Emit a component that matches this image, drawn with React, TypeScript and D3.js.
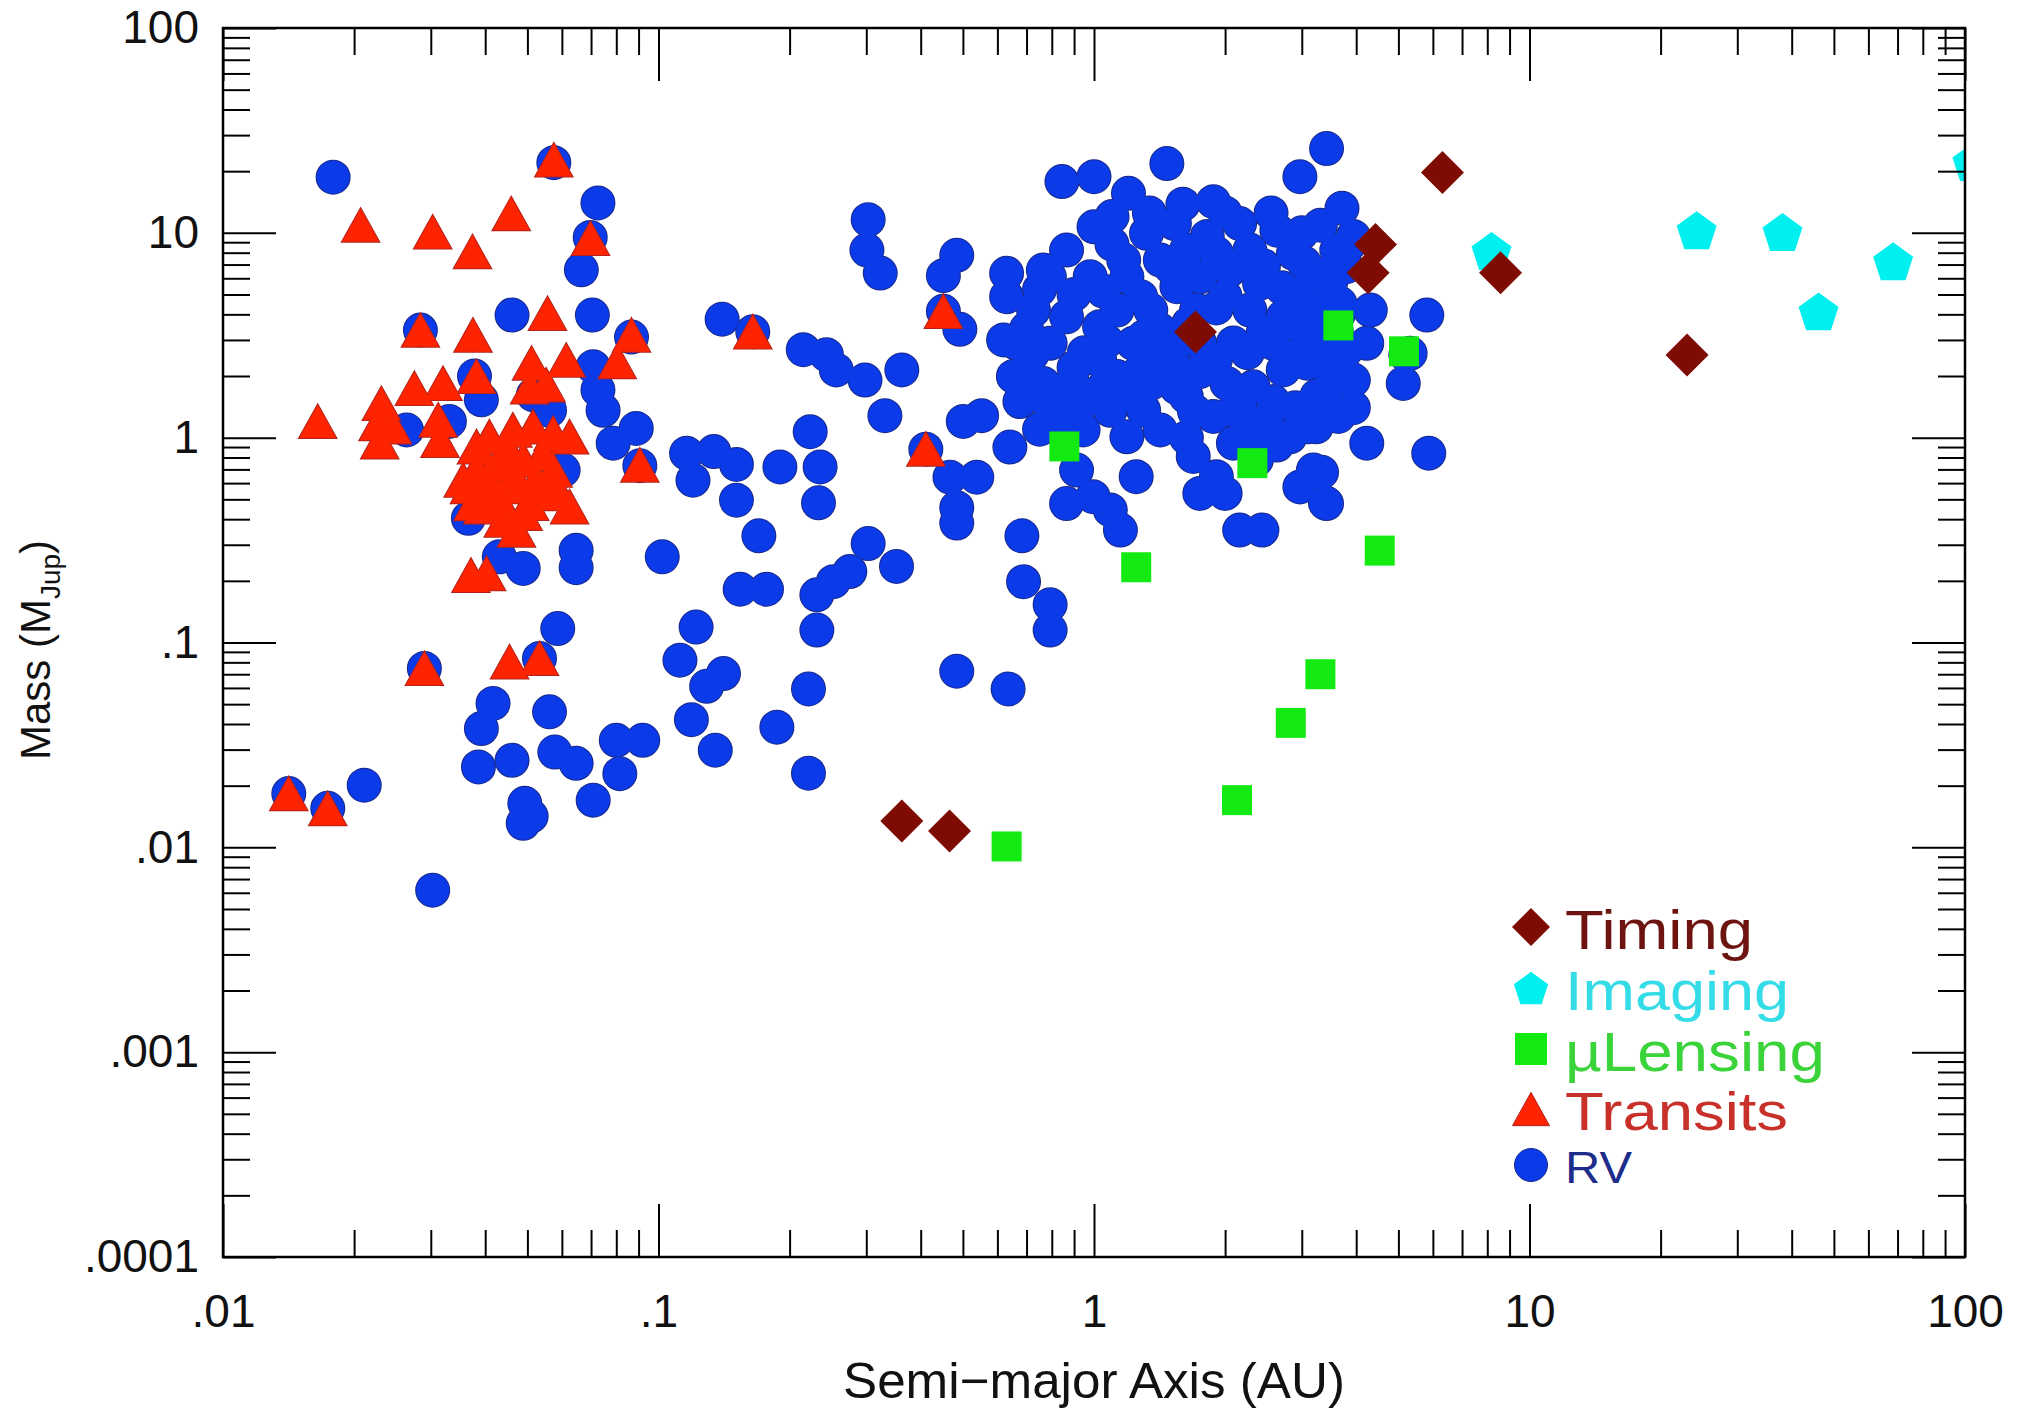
import React, { useEffect, useRef } from 'react';
import * as d3 from 'd3';

type Pt = [number, number]; // [semi-major axis (AU), mass (M_Jup)]

const rvPoints: Pt[] = [
  [0.0179, 18.7], [0.0575, 22], [0.0726, 14.0], [0.0697, 9.5], [0.0665, 6.6], [0.0461, 3.97],
  [0.0705, 3.97], [0.0284, 3.35], [0.0867, 3.1], [0.0708, 2.22], [0.0378, 2.0], [0.0392, 1.53],
  [0.0726, 1.71], [0.0746, 1.36], [0.0889, 1.11], [0.0787, 0.94], [0.116, 0.84], [0.12, 0.62],
  [0.0906, 0.73], [0.0516, 1.62], [0.0562, 1.36], [0.0264, 1.09], [0.0331, 1.2], [0.0604, 0.695],
  [0.0366, 0.404], [0.0647, 0.282], [0.0647, 0.232], [0.102, 0.262], [0.0431, 0.262], [0.0489, 0.23],
  [0.0587, 0.117], [0.0533, 0.0836], [0.029, 0.0747], [0.0417, 0.0504], [0.0392, 0.038], [0.0562, 0.0459],
  [0.0386, 0.0247], [0.0461, 0.0266], [0.0578, 0.0292], [0.0647, 0.0257], [0.08, 0.0333], [0.092, 0.0333],
  [0.0815, 0.0229], [0.0708, 0.017], [0.0493, 0.0164], [0.0489, 0.0131], [0.051, 0.0142], [0.0211, 0.0201],
  [0.01416, 0.0183], [0.0174, 0.0155], [0.0303, 0.00618],
  [0.303, 11.6], [0.301, 8.24], [0.323, 6.36], [0.484, 7.77], [0.451, 6.18], [0.14, 3.79],
  [0.1646, 3.29], [0.451, 4.14], [0.492, 3.38], [0.215, 2.69], [0.243, 2.54], [0.256, 2.14],
  [0.298, 1.91], [0.362, 2.14], [0.331, 1.28], [0.62, 3.0], [0.501, 1.2], [0.552, 1.28],
  [0.411, 0.879], [0.467, 0.641], [0.538, 0.641], [0.484, 0.455], [0.484, 0.383], [0.223, 1.07],
  [0.134, 0.855], [0.151, 0.74], [0.19, 0.72], [0.235, 0.72], [0.151, 0.495], [0.233, 0.481],
  [0.17, 0.332], [0.303, 0.304], [0.352, 0.235], [0.275, 0.222], [0.252, 0.198], [0.154, 0.182],
  [0.177, 0.182], [0.231, 0.171], [0.231, 0.115], [0.683, 0.332], [0.689, 0.198], [0.793, 0.153],
  [0.793, 0.115], [0.122, 0.119], [0.112, 0.082], [0.141, 0.0705], [0.129, 0.0611], [0.119, 0.042],
  [0.135, 0.0298], [0.221, 0.0593], [0.187, 0.0386], [0.221, 0.023], [0.484, 0.0724], [0.635, 0.0593],
  [0.844, 17.8], [1.0, 18.8], [1.2, 15.6], [1.47, 21.8], [3.42, 25.8], [2.97, 18.8],
  [3.71, 13.2], [3.31, 10.9], [1.88, 14.2], [2.16, 11.1], [2.63, 10.3], [2.87, 7.94],
  [3.61, 8.24], [3.8, 6.83], [1.53, 11.1], [1.32, 9.94], [1.0, 10.7], [0.865, 8.24],
  [0.765, 6.58], [0.63, 6.34], [0.63, 4.88], [1.91, 7.94], [1.63, 8.24], [1.17, 7.36],
  [0.98, 6.11], [1.28, 4.88], [1.55, 5.46], [2.05, 6.58], [2.4, 5.66], [2.97, 5.06],
  [3.67, 4.53], [4.31, 4.2], [5.81, 3.97], [4.23, 2.89], [5.32, 2.58], [5.13, 1.84],
  [4.23, 0.94], [5.87, 0.84], [3.19, 0.695], [2.97, 0.575], [3.42, 0.477], [2.16, 0.354],
  [2.43, 0.354], [1.69, 0.81], [1.91, 0.645], [2.09, 0.94], [2.36, 0.78], [2.82, 1.01],
  [3.42, 1.53], [3.94, 1.91], [3.8, 2.68], [3.08, 2.31], [2.58, 2.89], [2.32, 1.77],
  [2.02, 1.84], [1.88, 1.27], [1.63, 1.58], [1.52, 2.31], [1.72, 4.2], [1.42, 3.35],
  [1.23, 2.89], [1.03, 3.48], [0.865, 3.89], [0.726, 4.2], [0.664, 2.89], [0.653, 1.99],
  [0.765, 1.84], [0.793, 1.42], [0.944, 1.64], [1.13, 1.99], [1.35, 1.84], [1.09, 1.36],
  [1.3, 1.36], [0.944, 1.09], [1.19, 1.01], [1.42, 1.09], [0.912, 0.695], [0.995, 0.515],
  [1.09, 0.444], [1.15, 0.354], [1.25, 0.645], [0.641, 0.9], [1.03, 2.39], [1.75, 2.89],
  [2.72, 3.89], [2.28, 4.2], [2.49, 1.22], [3.24, 1.13], [2.09, 1.36], [0.793, 2.89],
  [1.13, 4.2], [1.42, 7.36], [2.28, 8.24],
  [3.89, 8.95], [3.04, 7.12], [3.64, 4.0], [5.2, 2.54], [3.8, 2.01], [3.25, 1.6],
  [3.64, 1.27], [3.1, 1.13], [3.33, 0.678], [3.4, 0.48],
  // the dense 1-4 AU cluster
  [0.79, 6.1], [1.19, 6.1], [1.75, 6.1], [3.3, 6.3], [1.35, 4.2], [1.91, 4.3],
  [3.24, 4.3], [1.07, 2.95], [1.52, 2.8], [2.09, 2.9], [3.24, 2.95], [0.7, 2.14],
  [0.9, 2.2], [1.28, 2.14], [1.75, 2.1], [2.72, 2.14], [3.54, 2.2], [0.676, 1.5],
  [0.93, 1.45], [2.16, 1.45], [2.58, 1.5], [3.94, 1.4], [0.75, 1.1], [1.63, 1.0],
  [0.865, 0.477], [1.75, 0.534], [2.0, 0.534], [1.1, 12.0], [1.34, 12.5], [1.82, 9.6],
  [3.94, 9.6], [2.63, 0.92], [2.45, 6.9], [2.9, 3.6], [1.55, 1.75], [1.05, 5.2],
  [0.7, 3.4], [2.25, 2.6], [3.6, 3.3], [2.0, 4.9], [1.2, 1.65], [0.85, 1.25],
  [0.9, 5.0], [1.1, 8.8], [1.5, 6.8], [2.2, 7.2], [2.7, 5.4], [3.5, 5.8],
  [1.3, 3.1], [1.65, 3.6], [2.45, 3.3], [3.3, 3.7], [0.95, 2.6], [1.4, 2.4],
  [1.9, 2.4], [2.9, 2.5], [3.5, 1.85], [1.05, 1.75], [1.7, 1.35], [2.3, 1.1],
  [2.9, 1.4], [0.82, 1.7], [0.72, 2.55], [0.75, 5.3], [2.0, 12.5], [2.55, 12.5],
  [3.0, 10.0], [1.6, 13.8],
];

const transitPoints: Pt[] = [
  [0.0575, 22.7], [0.0207, 10.9], [0.0303, 10.1], [0.0374, 8.09], [0.0459, 12.4], [0.0698, 9.4],
  [0.0556, 4.04], [0.0284, 3.35], [0.0375, 3.17], [0.0867, 3.17], [0.0804, 2.35], [0.0511, 2.31],
  [0.0614, 2.39], [0.0382, 1.99], [0.0275, 1.74], [0.032, 1.84], [0.0231, 1.47], [0.0165, 1.2],
  [0.0227, 1.17], [0.0245, 1.13], [0.0229, 0.955], [0.0312, 1.22], [0.0315, 0.97], [0.0506, 1.77],
  [0.0552, 1.81], [0.0625, 1.01], [0.0906, 0.735],
  [0.0409, 1.01], [0.0463, 1.09], [0.0515, 1.13], [0.0382, 0.695], [0.0432, 0.748], [0.0489, 0.778],
  [0.0543, 0.838], [0.0368, 0.577], [0.0417, 0.555], [0.0472, 0.577], [0.0524, 0.621], [0.044, 0.396],
  [0.0395, 0.46], [0.0625, 0.46], [0.0506, 0.478],
  [0.0356, 0.621], [0.0382, 0.903], [0.0448, 0.903], [0.0573, 1.05], [0.0573, 0.695], [0.0463, 0.67],
  [0.0403, 0.645], [0.0375, 0.477], [0.0432, 0.496], [0.0489, 0.427], [0.0543, 0.534], [0.0472, 0.354],
  [0.0586, 0.555],
  [0.0371, 0.213], [0.0403, 0.217], [0.029, 0.0747], [0.0455, 0.0805], [0.0533, 0.0836],
  [0.01416, 0.0183], [0.0174, 0.01546], [0.1646, 3.29], [0.451, 4.14], [0.411, 0.879],
];

const lensingPoints: Pt[] = [
  [0.855, 0.906], [1.25, 0.233], [2.31, 0.751], [3.64, 3.53], [5.15, 2.64],
  [4.53, 0.281], [3.31, 0.07], [2.83, 0.0405], [2.13, 0.017], [0.63, 0.0101],
];

const imagingPoints: Pt[] = [
  [8.18, 8.17], [24.2, 10.3], [38.1, 10.1], [46.1, 4.14], [68.4, 7.27], [104, 22.2],
];

const timingPoints: Pt[] = [
  [0.362, 0.01346], [0.466, 0.012], [1.71, 3.28], [4.43, 8.78],
  [4.26, 6.38], [6.31, 19.7], [8.58, 6.38], [23.0, 2.53],
];

const xTickValues = [0.01, 0.1, 1, 10, 100];
const xTickLabels = ['.01', '.1', '1', '10', '100'];
const yTickValues = [0.0001, 0.001, 0.01, 0.1, 1, 10, 100];
const yTickLabels = ['.0001', '.001', '.01', '.1', '1', '10', '100'];

type Shape = 'circle' | 'triangle' | 'square' | 'pentagon' | 'diamond';

// drawing order: RV at the back, timing on top
const seriesList = [
  { name: 'RV', points: rvPoints, shape: 'circle' as Shape, size: 16.5, fill: '#0b3be8', stroke: '#1a2a8c', text: '#1e2d8c' },
  { name: 'Transits', points: transitPoints, shape: 'triangle' as Shape, size: 18.5, fill: '#ff2400', stroke: '#b3221c', text: '#c8302a' },
  { name: 'µLensing', points: lensingPoints, shape: 'square' as Shape, size: 15, fill: '#12ea12', stroke: 'none', text: '#3ad43a' },
  { name: 'Imaging', points: imagingPoints, shape: 'pentagon' as Shape, size: 21, fill: '#00f0f0', stroke: 'none', text: '#33dce6' },
  { name: 'Timing', points: timingPoints, shape: 'diamond' as Shape, size: 21.5, fill: '#7e0c02', stroke: 'none', text: '#6e1410' },
];

const legendOrder = ['Timing', 'Imaging', 'µLensing', 'Transits', 'RV'];
const legendY = [927, 988, 1049, 1109, 1165];
const legendFont = [56, 56, 56, 54, 44];
const legendWidth = [188, 224, 260, 223, 67];

const FONT = '"Liberation Sans", Arial, Helvetica, sans-serif';

const shapePath = (shape: Shape, r: number): string => {
  if (shape === 'circle') {
    const p = d3.path();
    p.arc(0, 0, r, 0, Math.PI * 2);
    p.closePath();
    return p.toString();
  }
  if (shape === 'triangle') {
    const h = r * 0.9;
    return `M0,${-h}L${r},${h}L${-r},${h}Z`;
  }
  if (shape === 'square') return `M${-r},${-r}h${2 * r}v${2 * r}h${-2 * r}Z`;
  if (shape === 'diamond') return `M0,${-r}L${r},0L0,${r}L${-r},0Z`;
  const pts = d3.range(5).map((k) => {
    const a = -Math.PI / 2 + (k * 2 * Math.PI) / 5;
    return [r * Math.cos(a), r * Math.sin(a) + r * 0.1];
  });
  return 'M' + pts.map((p) => p.join(',')).join('L') + 'Z';
};

const ExoplanetChart: React.FC = () => {
  const chartRef = useRef<SVGSVGElement | null>(null);

  useEffect(() => {
    if (!chartRef.current) return;

    const width = 2018;
    const height = 1414;
    const left = 223;
    const right = 1965;
    const top = 28;
    const bottom = 1257;

    const svg = d3.select(chartRef.current);
    svg.selectAll('*').remove();
    svg.attr('width', width).attr('height', height);

    svg.append('rect').attr('width', width).attr('height', height).attr('fill', '#fff');

    const x = d3.scaleLog().domain([0.01, 100]).range([left, right]);
    const y = d3.scaleLog().domain([0.0001, 100]).range([bottom, top]);

    svg
      .append('defs')
      .append('clipPath')
      .attr('id', 'plot-clip')
      .append('rect')
      .attr('x', left)
      .attr('y', top)
      .attr('width', right - left)
      .attr('height', bottom - top);

    const plot = svg.append('g').attr('clip-path', 'url(#plot-clip)');

    // outlines go underneath the fills so that overlapping marks merge into one blob
    seriesList.forEach((s) => {
      if (s.stroke !== 'none') {
        plot
          .append('g')
          .selectAll('path')
          .data(s.points)
          .join('path')
          .attr('d', shapePath(s.shape, s.size))
          .attr('transform', (d) => `translate(${x(d[0])},${y(d[1])})`)
          .attr('fill', s.stroke)
          .attr('stroke', s.stroke)
          .attr('stroke-width', 2);
      }
      plot
        .append('g')
        .selectAll('path')
        .data(s.points)
        .join('path')
        .attr('d', shapePath(s.shape, s.size))
        .attr('transform', (d) => `translate(${x(d[0])},${y(d[1])})`)
        .attr('fill', s.fill);
    });

    // minor ticks (2..9 in each decade)
    const minors = (lo: number, hi: number) => {
      const out: number[] = [];
      for (let d = lo; d < hi * 0.99; d *= 10) {
        for (let k = 2; k <= 9; k++) out.push(+(k * d).toPrecision(3));
      }
      return out;
    };
    const xMinor = minors(0.01, 100);
    const yMinor = minors(0.0001, 100);

    const styleAxis = (g: d3.Selection<SVGGElement, unknown, null, undefined>) => {
      g.select('.domain').remove();
      g.selectAll('line').attr('stroke', '#000').attr('stroke-width', 2);
      g.attr('font-family', FONT).attr('font-size', 46);
      g.selectAll('text').attr('fill', '#111');
    };

    svg
      .append('g')
      .attr('transform', `translate(0,${bottom})`)
      .call(
        d3.axisBottom(x).tickValues(xTickValues).tickFormat((_d, i) => xTickLabels[i])
          .tickSize(-53).tickSizeOuter(0).tickPadding(37)
      )
      .call(styleAxis);
    svg
      .append('g')
      .attr('transform', `translate(0,${bottom})`)
      .call(d3.axisBottom(x).tickValues(xMinor).tickFormat(() => '').tickSize(-27).tickSizeOuter(0))
      .call(styleAxis);
    svg
      .append('g')
      .attr('transform', `translate(0,${top})`)
      .call(d3.axisTop(x).tickValues(xTickValues).tickFormat(() => '').tickSize(-53).tickSizeOuter(0))
      .call(styleAxis);
    svg
      .append('g')
      .attr('transform', `translate(0,${top})`)
      .call(d3.axisTop(x).tickValues(xMinor).tickFormat(() => '').tickSize(-27).tickSizeOuter(0))
      .call(styleAxis);

    svg
      .append('g')
      .attr('transform', `translate(${left},0)`)
      .call(
        d3.axisLeft(y).tickValues(yTickValues).tickFormat((_d, i) => yTickLabels[i])
          .tickSize(-53).tickSizeOuter(0).tickPadding(24)
      )
      .call(styleAxis);
    svg
      .append('g')
      .attr('transform', `translate(${left},0)`)
      .call(d3.axisLeft(y).tickValues(yMinor).tickFormat(() => '').tickSize(-27).tickSizeOuter(0))
      .call(styleAxis);
    svg
      .append('g')
      .attr('transform', `translate(${right},0)`)
      .call(d3.axisRight(y).tickValues(yTickValues).tickFormat(() => '').tickSize(-53).tickSizeOuter(0))
      .call(styleAxis);
    svg
      .append('g')
      .attr('transform', `translate(${right},0)`)
      .call(d3.axisRight(y).tickValues(yMinor).tickFormat(() => '').tickSize(-27).tickSizeOuter(0))
      .call(styleAxis);

    svg
      .append('rect')
      .attr('x', left)
      .attr('y', top)
      .attr('width', right - left)
      .attr('height', bottom - top)
      .attr('fill', 'none')
      .attr('stroke', '#000')
      .attr('stroke-width', 2.5);

    // axis titles
    svg
      .append('text')
      .attr('x', (left + right) / 2)
      .attr('y', 1398)
      .attr('text-anchor', 'middle')
      .attr('font-family', FONT)
      .attr('font-size', 50)
      .attr('fill', '#111')
      .attr('textLength', 502)
      .attr('lengthAdjust', 'spacingAndGlyphs')
      .text('Semi\u2212major Axis (AU)');

    const yt = svg
      .append('text')
      .attr('transform', 'translate(50,650) rotate(-90)')
      .attr('text-anchor', 'middle')
      .attr('font-family', FONT)
      .attr('font-size', 42)
      .attr('fill', '#111');
    yt.append('tspan').text('Mass (M');
    yt.append('tspan').attr('font-size', 28).attr('dy', 10).text('Jup');
    yt.append('tspan').attr('dy', -10).text(')');

    // legend
    const legend = svg.append('g');
    legendOrder.forEach((name, i) => {
      const s = seriesList.find((d) => d.name === name)!;
      const cy = legendY[i];
      const r = s.shape === 'diamond' ? 19 : s.shape === 'pentagon' ? 18 : s.shape === 'square' ? 16 : s.size;
      legend
        .append('path')
        .attr('d', shapePath(s.shape, r))
        .attr('transform', `translate(1531,${cy})`)
        .attr('fill', s.fill)
        .attr('stroke', s.stroke)
        .attr('stroke-width', 1);
      legend
        .append('text')
        .attr('x', 1565)
        .attr('y', cy + legendFont[i] * 0.716 / 2 + 2)
        .attr('font-family', FONT)
        .attr('font-size', legendFont[i])
        .attr('fill', s.text)
        .attr('textLength', legendWidth[i])
        .attr('lengthAdjust', 'spacingAndGlyphs')
        .text(name);
    });
  }, []);

  return (
    <svg
      ref={chartRef}
      style={{ position: 'absolute', left: 0, top: 0, display: 'block', background: '#fff' }}
    ></svg>
  );
};

export default function App() {
  return <ExoplanetChart />;
}
